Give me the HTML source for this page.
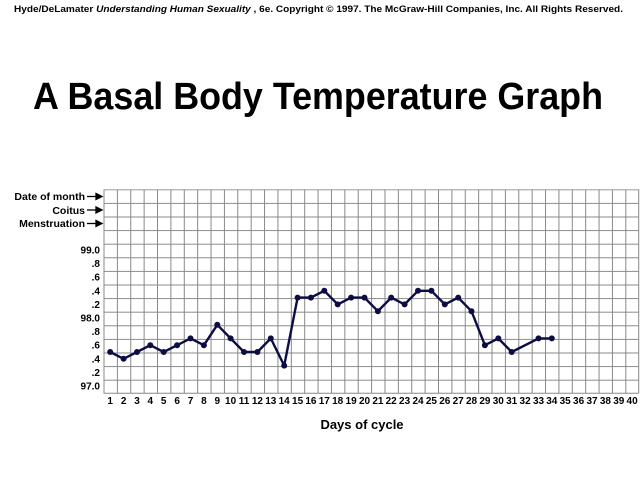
<!DOCTYPE html>
<html><head><meta charset="utf-8"><style>html,body{margin:0;padding:0;background:#fff}svg{display:block}</style></head>
<body>
<svg width="640" height="480" xmlns="http://www.w3.org/2000/svg" font-family="Liberation Sans, Arial, sans-serif">
<defs>
<pattern id="g" patternUnits="userSpaceOnUse" x="103.5" y="189.3" width="13.38" height="13.6">
<path d="M0.5 0 V13.6 M0 0.5 H13.38" stroke="#888" stroke-width="1" fill="none"/>
</pattern>
<marker id="dot" markerWidth="8" markerHeight="8" refX="4" refY="4" markerUnits="userSpaceOnUse">
<circle cx="4" cy="4" r="3" fill="#0d0d45"/>
</marker>
</defs>
<text x="14" y="12" font-size="9.5" font-weight="bold" textLength="609" lengthAdjust="spacingAndGlyphs">Hyde/DeLamater  <tspan font-style="italic">Understanding Human Sexuality</tspan> , 6e.  Copyright © 1997. The McGraw-Hill Companies, Inc. All Rights Reserved.</text>
<text x="33" y="109" font-size="38" font-weight="bold" textLength="570" lengthAdjust="spacingAndGlyphs">A Basal Body Temperature Graph</text>
<rect x="103.5" y="189.3" width="535.2" height="204" fill="url(#g)"/>
<path d="M638.7 189.3 V393.3 M103.5 393.3 H638.7" stroke="#888" stroke-width="1"/>
<g font-size="10.5" font-weight="bold" text-anchor="end">
<text x="85" y="200">Date of month</text>
<text x="85" y="214">Coitus</text>
<text x="85" y="227">Menstruation</text>
</g>
<g stroke="#000" stroke-width="1.3" fill="#000">
<line x1="87" y1="196.5" x2="97" y2="196.5"/><polygon points="96,193.5 102,196.5 96,199.5"/>
<line x1="87" y1="210" x2="97" y2="210"/><polygon points="96,207 102,210 96,213"/>
<line x1="87" y1="223.5" x2="97" y2="223.5"/><polygon points="96,220.5 102,223.5 96,226.5"/>
</g>
<g font-size="10" font-weight="bold" text-anchor="end">
<text x="100" y="253.5">99.0</text>
<text x="100" y="267.1">.8</text>
<text x="100" y="280.7">.6</text>
<text x="100" y="294.3">.4</text>
<text x="100" y="307.9">.2</text>
<text x="100" y="321.5">98.0</text>
<text x="100" y="335.1">.8</text>
<text x="100" y="348.7">.6</text>
<text x="100" y="362.3">.4</text>
<text x="100" y="375.9">.2</text>
<text x="100" y="389.5">97.0</text>
</g>
<g font-size="10" font-weight="bold" text-anchor="middle">
<text x="110.2" y="404">1</text><text x="123.6" y="404">2</text><text x="137.0" y="404">3</text><text x="150.3" y="404">4</text><text x="163.7" y="404">5</text><text x="177.1" y="404">6</text><text x="190.5" y="404">7</text><text x="203.9" y="404">8</text><text x="217.3" y="404">9</text><text x="230.6" y="404">10</text><text x="244.0" y="404">11</text><text x="257.4" y="404">12</text><text x="270.8" y="404">13</text><text x="284.2" y="404">14</text><text x="297.6" y="404">15</text><text x="310.9" y="404">16</text><text x="324.3" y="404">17</text><text x="337.7" y="404">18</text><text x="351.1" y="404">19</text><text x="364.5" y="404">20</text><text x="377.9" y="404">21</text><text x="391.2" y="404">22</text><text x="404.6" y="404">23</text><text x="418.0" y="404">24</text><text x="431.4" y="404">25</text><text x="444.8" y="404">26</text><text x="458.2" y="404">27</text><text x="471.5" y="404">28</text><text x="484.9" y="404">29</text><text x="498.3" y="404">30</text><text x="511.7" y="404">31</text><text x="525.1" y="404">32</text><text x="538.5" y="404">33</text><text x="551.8" y="404">34</text><text x="565.2" y="404">35</text><text x="578.6" y="404">36</text><text x="592.0" y="404">37</text><text x="605.4" y="404">38</text><text x="618.8" y="404">39</text><text x="632.1" y="404">40</text>
</g>
<text x="362" y="429" font-size="13" font-weight="bold" text-anchor="middle">Days of cycle</text>
<polyline fill="none" stroke="#0d0d45" stroke-width="2.4" stroke-linejoin="round" marker-start="url(#dot)" marker-mid="url(#dot)" marker-end="url(#dot)" points="110.2,352 123.6,358.8 137.0,352 150.3,345.2 163.7,352 177.1,345.2 190.5,338.4 203.9,345.2 217.3,324.8 230.6,338.4 244.0,352 257.4,352 270.8,338.4 284.2,365.6 297.6,297.6 310.9,297.6 324.3,290.8 337.7,304.4 351.1,297.6 364.5,297.6 377.9,311.2 391.2,297.6 404.6,304.4 418.0,290.8 431.4,290.8 444.8,304.4 458.2,297.6 471.5,311.2 484.9,345.2 498.3,338.4 511.7,352 538.5,338.4 551.8,338.4"/>
</svg>
</body></html>
